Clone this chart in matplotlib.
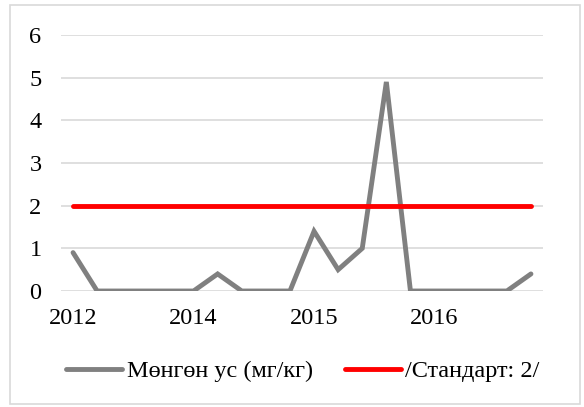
import matplotlib
matplotlib.use("Agg")
import matplotlib.pyplot as plt
from matplotlib.patches import Rectangle

plt.rcParams['font.family'] = ['Liberation Serif', 'DejaVu Serif']

# Data
mercury = [0.9, 0, 0, 0, 0, 0, 0.4, 0, 0, 0, 1.4, 0.5, 1.0, 4.9, 0, 0, 0, 0, 0, 0.4]
standard = [2] * 20
tick_positions = [0, 5, 10, 15]
tick_labels = ["2012", "2014", "2015", "2016"]
series_names = ["Мөнгөн ус (мг/кг)", "/Стандарт: 2/"]

fig = plt.figure(figsize=(5.84, 4.07), dpi=100)
ax = fig.add_axes([61/584, 1 - 291/407, (543 - 61)/584, (291 - 35)/407])

x = list(range(len(mercury)))
ax.plot(x, mercury, color='#808080', lw=3.5, solid_capstyle='round', solid_joinstyle='miter', label=series_names[0], zorder=3)
ax.plot(x, standard, color='#FF0000', lw=3.5, solid_capstyle='round', label=series_names[1], zorder=4)

ax.set_xlim(-0.5, len(mercury) - 0.5)
ax.set_ylim(0, 6)
ax.set_yticks(range(0, 7))
ax.set_xticks(tick_positions)
ax.set_xticklabels(tick_labels)
ax.tick_params(axis='both', length=0, labelsize=17.5)
ax.tick_params(axis='y', pad=14)
ax.tick_params(axis='x', pad=12)
ax.grid(axis='y', color='#D9D9D9', lw=1.2, zorder=0)
for s in ax.spines.values():
    s.set_visible(False)

fig.legend(loc='center', bbox_to_anchor=(303/584, 1 - 371/407), ncol=2, frameon=False,
           fontsize=17.5, handlelength=2.3, handletextpad=0.2, columnspacing=1.3)

fig.patches.append(Rectangle((10/584, 1 - 404/407), 570/584, 399/407, transform=fig.transFigure,
                             fill=False, edgecolor='#D9D9D9', lw=1.2))

fig.savefig('out.png', dpi=100)
